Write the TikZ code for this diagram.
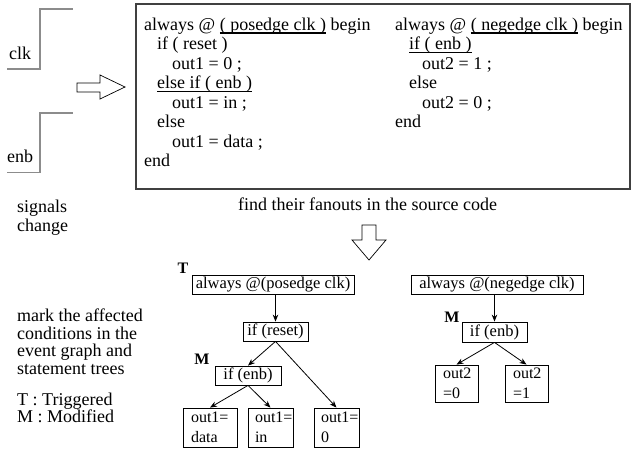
\documentclass[tikz,border=0pt]{standalone}
\usepackage{fontspec}
\setmainfont{Liberation Serif}
\newcommand\myul[1]{\setbox0\hbox{#1}\rlap{\raisebox{-3.5pt}{\rule{\wd0}{1.3pt}}}\box0{}}
\usetikzlibrary{arrows.meta}
\begin{document}
\begin{tikzpicture}[x=1pt,y=-1pt,
  codetxt/.style={anchor=base west, inner sep=0pt, font=\fontsize{18}{19.5}\selectfont},
  plain/.style={anchor=base west, inner sep=0pt, font=\fontsize{18}{19}\selectfont},
  tbox/.style={draw, line width=0.8pt, inner sep=0pt, minimum height=19pt, font=\fontsize{16.5}{18}\selectfont},
  leaf/.style={draw, line width=0.8pt, inner xsep=8pt, inner ysep=0pt, minimum height=39pt, align=left, font=\fontsize{16}{20}\selectfont},
  tagletter/.style={inner sep=0pt, font=\fontsize{16}{18}\selectfont\bfseries},
  wave/.style={draw=gray!90, line width=1.2pt},
  hollow/.style={draw=black, line width=0.7pt, fill=white},
  arr/.style={draw, line width=0.8pt, -{Stealth[length=7pt,width=5.5pt]}}]
\useasboundingbox (0,0) rectangle (633,448);

% waveforms
\draw[wave] (7,69) -- (40,69) -- (40,9) -- (73,9);
\draw[wave] (7,172.5) -- (40,172.5) -- (40,113) -- (73,113);
\node[plain] (clk) at (9,59) {clk};
\node[plain] (enb) at (7,162) {enb};

% right hollow arrow
\draw[hollow] (77,83) -- (100,83) -- (100,75) -- (125,87) -- (100,99) -- (100,92) -- (77,92) -- cycle;

% code box
\draw[draw=black!75, line width=1.4pt] (136,4) rectangle (630,189);
\node[codetxt] (l1) at (144,30) {always @ \myul{( posedge clk )} begin};
\node[codetxt] (l2) at (157,49.5) {if ( reset )};
\node[codetxt] (l3) at (172,69) {out1 = 0 ;};
\node[codetxt] (l4) at (157,88.5) {\myul{else if ( enb )}};
\node[codetxt] (l5) at (172,108) {out1 = in ;};
\node[codetxt] (l6) at (157,127.5) {else};
\node[codetxt] (l7) at (172,147) {out1 = data ;};
\node[codetxt] (l8) at (144,166.5) {end};
\node[codetxt] (r1) at (395,30) {always @ \myul{( negedge clk )} begin};
\node[codetxt] (r2) at (409,49.5) {\myul{if ( enb )}};
\node[codetxt] (r3) at (422,69) {out2 = 1 ;};
\node[codetxt] (r4) at (409,88.5) {else};
\node[codetxt] (r5) at (422,108) {out2 = 0 ;};
\node[codetxt] (r6) at (395,127.5) {end};

% captions
\node[plain] (sig1) at (17,212) {signals};
\node[plain] (sig2) at (17,231) {change};
\node[plain] (find) at (238,210) {find their fanouts in the source code};

% down hollow arrow
\draw[hollow] (362,225) -- (376,225) -- (376,240) -- (386,240) -- (369,260) -- (352,240) -- (362,240) -- cycle;

\node[plain] (m1) at (17,321) {mark the affected};
\node[plain] (m2) at (17,339) {conditions in the};
\node[plain] (m3) at (17,356) {event graph and};
\node[plain] (m4) at (17,374) {statement trees};
\node[plain] (m5) at (17,405) {T : Triggered};
\node[plain] (m6) at (17,422) {M : Modified};

% left tree
\node[tbox, minimum width=162pt] (a1) at (273,284.5) {always @(posedge clk)};
\node[tagletter] (tT) at (183,268) {T};
\node[tbox, minimum width=65pt] (rst) at (275.5,331.5) {if (reset)};
\node[tagletter] (tM1) at (202,359) {M};
\node[tbox, minimum width=66pt] (en1) at (248,375.5) {if (enb)};
\node[leaf, text width=38pt] (d) at (210,427.5) {out1=\\data};
\node[leaf, text width=31pt, inner xsep=7pt] (in) at (270.5,427.5) {out1=\\in};
\node[leaf, text width=31pt, inner xsep=7pt] (z) at (336.5,427.5) {out1=\\0};
\draw[arr] (a1.south -| rst.north) -- (rst.north);
\draw[arr] (rst.south) -- (en1.north);
\draw[arr] (rst.south) -- (z.north);
\draw[arr] (en1.south) -- (d.north);
\draw[arr] (en1.south) -- (in.north);

% right tree
\node[tbox, minimum width=172pt] (a2) at (497,284.5) {always @(negedge clk)};
\node[tagletter] (tM2) at (452,317) {M};
\node[tbox, minimum width=65pt, minimum height=20pt] (en2) at (494.5,332) {if (enb)};
\node[leaf, text width=27pt, minimum height=37pt] (o0) at (456.5,383.5) {out2\\=0};
\node[leaf, text width=27pt, minimum height=37pt] (o1) at (526.5,383.5) {out2\\=1};
\draw[arr] (a2.south -| en2.north) -- (en2.north);
\draw[arr] (en2.south) -- (o0.north);
\draw[arr] (en2.south) -- (o1.north);
\end{tikzpicture}
\end{document}
